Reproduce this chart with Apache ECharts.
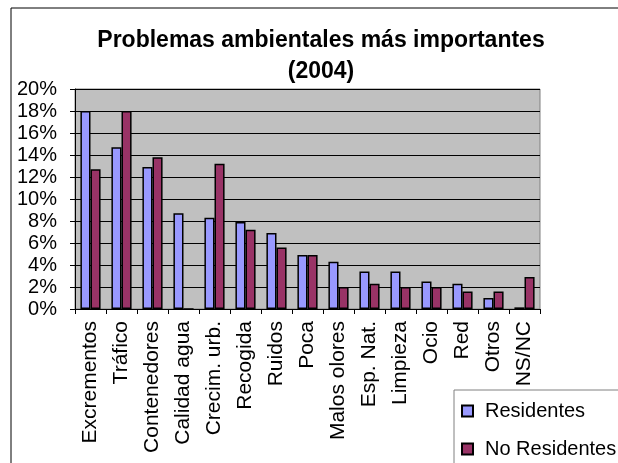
<!DOCTYPE html>
<html>
<head>
<meta charset="utf-8">
<script src="https://cdn.jsdelivr.net/npm/echarts@6/dist/echarts.min.js"></script>
<style>
  html, body { margin: 0; padding: 0; background: #fff; }
  #chart { width: 618px; height: 463px; }
</style>
</head>
<body>
<div id="chart"></div>
<script>
// Environmental problems ranked by share of mentions (%), 2004 survey
var categories = ['Excrementos', 'Tráfico', 'Contenedores', 'Calidad agua', 'Crecim. urb.',
  'Recogida', 'Ruidos', 'Poca', 'Malos olores', 'Esp. Nat.', 'Limpieza', 'Ocio', 'Red', 'Otros', 'NS/NC'];
var residentes = [18.0, 14.7, 12.9, 8.7, 8.3, 7.9, 6.9, 4.9, 4.3, 3.4, 3.4, 2.5, 2.3, 1.0, 0.15];
var noResidentes = [12.7, 18.0, 13.8, 0, 13.2, 7.2, 5.6, 4.9, 2.0, 2.3, 2.0, 2.0, 1.6, 1.6, 2.9];
var yTicks = { min: 0, max: 20, step: 2 };

var FONT = '"Liberation Sans", Arial, sans-serif';
var chart = echarts.init(document.getElementById('chart'));

// one legend entry per box row
function legendRow(name, top) {
  return {
    orient: 'vertical',
    left: 456,
    top: top,
    itemWidth: 11,
    itemHeight: 11,
    icon: 'rect',
    z: 95,
    textStyle: { fontFamily: FONT, fontSize: 20, color: '#000', padding: [0, 0, 0, 7] },
    data: [name]
  };
}

chart.setOption({
  animation: false,
  backgroundColor: '#ffffff',
  title: {
    text: 'Problemas ambientales más importantes\n(2004)',
    left: 316,
    textAlign: 'center',
    top: 20,
    textStyle: { fontFamily: FONT, fontSize: 23, fontWeight: 'bold', color: '#000', lineHeight: 31 }
  },
  graphic: [
    { type: 'rect', shape: { x: 11, y: 8, width: 700, height: 600 }, style: { fill: 'none', stroke: '#000', lineWidth: 1 }, z: 100 },
    { type: 'rect', shape: { x: 454, y: 390, width: 300, height: 200 }, style: { fill: '#fff', stroke: '#808080', lineWidth: 1 }, z: 90 }
  ],
  legend: [legendRow('Residentes', 396), legendRow('No Residentes', 434)],
  grid: {
    left: 75, top: 89, right: 78, bottom: 154,
    show: true, backgroundColor: '#c0c0c0', borderColor: '#808080', borderWidth: 1
  },
  xAxis: {
    type: 'category',
    data: categories,
    axisLine: { lineStyle: { color: '#000', width: 1 } },
    axisTick: { show: true, length: 5, lineStyle: { color: '#000' } },
    axisLabel: { interval: 0, rotate: 90, margin: 12, fontFamily: FONT, fontSize: 21, color: '#000' }
  },
  yAxis: {
    type: 'value',
    min: yTicks.min, max: yTicks.max, interval: yTicks.step,
    axisLine: { show: true, lineStyle: { color: '#000', width: 1 } },
    axisTick: { show: true, length: 5, lineStyle: { color: '#000' } },
    splitLine: { lineStyle: { color: '#000', width: 1 } },
    axisLabel: { formatter: '{value}%', margin: 18, fontFamily: FONT, fontSize: 20, color: '#000' }
  },
  series: [
    {
      name: 'Residentes', type: 'bar', data: residentes,
      barGap: '0%', barCategoryGap: '35%',
      itemStyle: { color: '#9999ff', borderColor: '#000', borderWidth: 1.5 }
    },
    {
      name: 'No Residentes', type: 'bar', data: noResidentes,
      itemStyle: { color: '#993366', borderColor: '#000', borderWidth: 1.5 }
    }
  ]
});
</script>
</body>
</html>
